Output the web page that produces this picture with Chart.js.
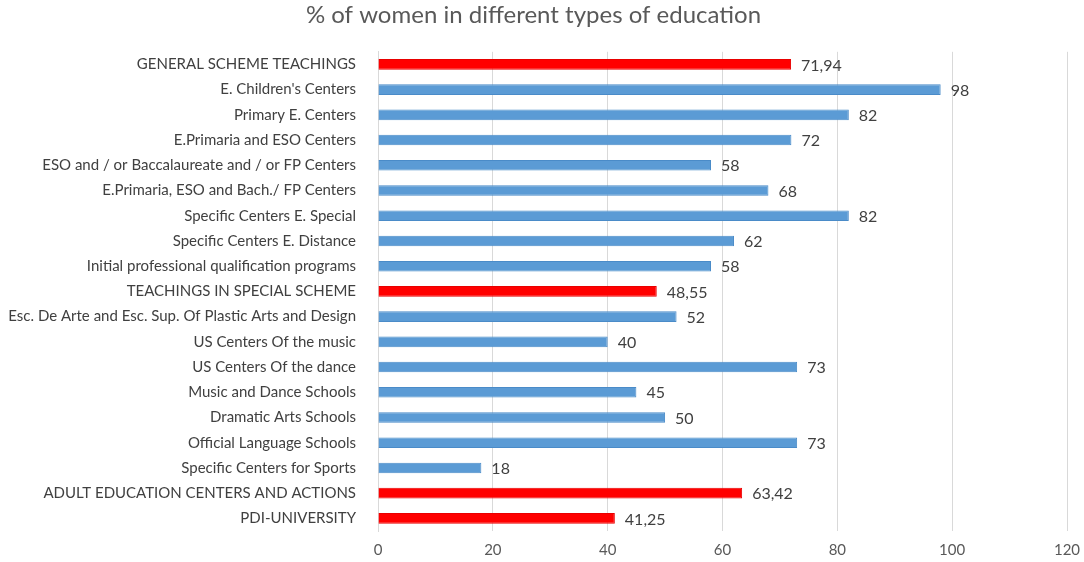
<!DOCTYPE html>
<html>
<head>
<meta charset="utf-8">
<script src="https://cdn.jsdelivr.net/npm/chart.js@4"></script>
<style>
  html, body { margin: 0; padding: 0; background: #fff; }
  #wrap { width: 1084px; height: 562px; position: relative; }
</style>
</head>
<body>
<div id="wrap"><canvas id="graph"></canvas></div>
<script>
const categories = [
    "GENERAL SCHEME TEACHINGS",
    "E. Children's Centers",
    "Primary E. Centers",
    "E.Primaria and ESO Centers",
    "ESO and / or Baccalaureate and / or FP Centers",
    "E.Primaria, ESO and Bach./ FP Centers",
    "Specific Centers E. Special",
    "Specific Centers E. Distance",
    "Initial professional qualification programs",
    "TEACHINGS IN SPECIAL SCHEME",
    "Esc. De Arte and Esc. Sup. Of Plastic Arts and Design",
    "US Centers Of the music",
    "US Centers Of the dance",
    "Music and Dance Schools",
    "Dramatic Arts Schools",
    "Official Language Schools",
    "Specific Centers for Sports",
    "ADULT EDUCATION CENTERS AND ACTIONS",
    "PDI-UNIVERSITY"
];
const womenPct = [71.94, 98, 82, 72, 58, 68, 82, 62, 58, 48.55, 52, 40, 73, 45, 50, 73, 18, 63.42, 41.25];
// headline rows drawn in red
const isHeader = [true, false, false, false, false, false, false, false, false, true,
                  false, false, false, false, false, false, false, true, true];
const xTicks = [0, 20, 40, 60, 80, 100, 120];

const RED = '#ff0000';
const BLUE = '#5b9bd5';
const FONT = 'Lato, "Open Sans", sans-serif';

// draw value labels next to each bar (comma decimals)
const valueLabels = {
    id: 'valueLabels',
    afterDatasetsDraw(chart) {
        const ctx = chart.ctx;
        const meta = chart.getDatasetMeta(0);
        ctx.save();
        ctx.font = '16px ' + FONT;
        ctx.fillStyle = '#404040';
        ctx.textBaseline = 'middle';
        ctx.textAlign = 'left';
        meta.data.forEach((bar, i) => {
            const txt = String(womenPct[i]).replace('.', ',');
            ctx.fillText(txt, bar.x + 10, bar.y + 1);
        });
        ctx.restore();
    }
};

const data = {
    labels: categories,
    datasets: [{
        data: womenPct,
        backgroundColor: isHeader.map(h => h ? RED : BLUE),
        borderColor: isHeader.map(h => h ? '#e80000' : '#4a8bc8'),
        borderWidth: 1,
        categoryPercentage: 1,
        barPercentage: 0.42
    }]
};

const config = {
    type: 'bar',
    data: data,
    plugins: [valueLabels],
    options: {
        indexAxis: 'y',
        responsive: false,
        animation: false,
        layout: { padding: { left: 0, right: 17, top: 0, bottom: 0 } },
        plugins: {
            legend: { display: false },
            tooltip: { enabled: false },
            title: {
                display: true,
                text: '% of women in different types of education',
                color: '#595959',
                font: { family: FONT, size: 24, weight: 'normal' },
                padding: { top: 1, bottom: 22 }
            }
        },
        scales: {
            x: {
                min: 0,
                max: 120,
                afterBuildTicks: s => { s.ticks = xTicks.map(v => ({ value: v })); },
                afterFit: s => { s.height = 31; s.paddingRight = 0; s.paddingLeft = 0; },
                grid: { color: '#d9d9d9', lineWidth: 1, drawTicks: false },
                border: { display: false },
                ticks: { color: '#595959', font: { family: FONT, size: 15 }, padding: 10 }
            },
            y: {
                grid: { display: false },
                border: { display: true, color: '#d9d9d9' },
                afterFit: s => { s.width = 378; },
                ticks: {
                    color: '#404040',
                    font: { family: FONT, size: 15 },
                    padding: 14,
                    autoSkip: false
                }
            }
        }
    }
};

const cv = document.getElementById('graph');
cv.width = 1084;
cv.height = 562;
const graph = new Chart(cv, config);
</script>
</body>
</html>
